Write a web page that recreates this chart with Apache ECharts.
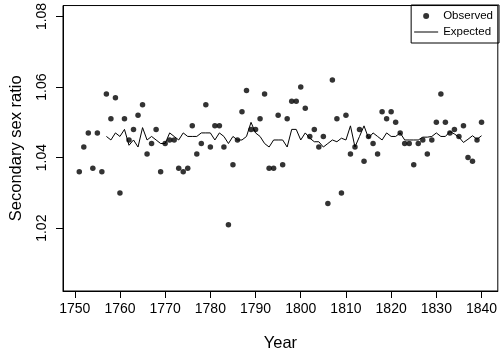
<!DOCTYPE html>
<html>
<head>
<meta charset="utf-8">
<script src="https://cdn.jsdelivr.net/npm/echarts@6/dist/echarts.min.js"></script>
<style>
	html, body { margin: 0; padding: 0; background: #fff; }
	#main { width: 500px; height: 357px; }
</style>
</head>
<body>
<div id="main"></div>
<script>
// observed ratios, one per year from 1751
var obsStart = 1751;
var observed = [
	1.036, 1.043, 1.047, 1.037, 1.047, 1.036, 1.058, 1.051, 1.057, 1.030,
	1.051, 1.045, 1.048, 1.052, 1.055, 1.041, 1.044, 1.048, 1.036, 1.044,
	1.045, 1.045, 1.037, 1.036, 1.037, 1.049, 1.041, 1.044, 1.055, 1.043,
	1.049, 1.049, 1.043, 1.021, 1.038, 1.045, 1.053, 1.059, 1.048, 1.048,
	1.051, 1.058, 1.037, 1.037, 1.052, 1.038, 1.051, 1.056, 1.056, 1.060,
	1.054, 1.046, 1.048, 1.043, 1.046, 1.027, 1.062, 1.051, 1.030, 1.052,
	1.041, 1.043, 1.048, 1.039, 1.046, 1.044, 1.041, 1.053, 1.051, 1.053,
	1.050, 1.047, 1.044, 1.044, 1.038, 1.044, 1.045, 1.041, 1.045, 1.050,
	1.058, 1.050, 1.047, 1.048, 1.046, 1.049, 1.040, 1.039, 1.045, 1.050
];
// expected ratios from 1757
var expStart = 1757;
var expected = [
	1.046, 1.045, 1.047, 1.046, 1.048, 1.0435, 1.045, 1.043, 1.0485, 1.045,
	1.046, 1.045, 1.044, 1.044, 1.047, 1.046, 1.045, 1.047, 1.046, 1.046,
	1.046, 1.047, 1.047, 1.047, 1.045, 1.047, 1.046, 1.044, 1.046, 1.045,
	1.045, 1.046, 1.050, 1.047, 1.046, 1.044, 1.043, 1.045, 1.045, 1.045,
	1.043, 1.048, 1.048, 1.045, 1.047, 1.0455, 1.0445, 1.0445, 1.043, 1.044,
	1.045, 1.0445, 1.0455, 1.045, 1.049, 1.043, 1.046, 1.049, 1.0455, 1.047,
	1.046, 1.045, 1.047, 1.046, 1.046, 1.047, 1.045, 1.045, 1.045, 1.045,
	1.0458, 1.0458, 1.046, 1.047, 1.046, 1.046, 1.0474, 1.0467, 1.0458, 1.0443,
	1.0452, 1.0462, 1.0452, 1.0462
];
var xTicks = [1750, 1760, 1770, 1780, 1790, 1800, 1810, 1820, 1830, 1840];
var yTicks = [1.02, 1.04, 1.06, 1.08];

var font = 'Liberation Sans, Arial, Helvetica, sans-serif';
var obsData = observed.map(function(v, i) { return [obsStart + i, v]; });
var expData = expected.map(function(v, i) { return [expStart + i, v]; });

var chart = echarts.init(document.getElementById('main'));
chart.setOption({
	animation: false,
	grid: {
		left: 60,
		right: 1,
		top: 5,
		bottom: 62,
		show: true,
		borderColor: '#000',
		borderWidth: 1,
		backgroundColor: 'transparent'
	},
	legend: {
		orient: 'vertical',
		right: 1,
		top: 5,
		borderColor: '#000',
		borderWidth: 1,
		padding: [4, 6, 4, 3],
		itemGap: 2,
		itemWidth: 24,
		itemHeight: 6,
		textStyle: {
			fontFamily: font,
			fontSize: 11.5,
			lineHeight: 14,
			color: '#000'
		},
		data: [
			{ name: 'Observed', icon: 'circle' },
			{ name: 'Expected', icon: 'path://M0,0L24,0L24,1L0,1Z', itemStyle: { color: '#000' } }
		]
	},
	xAxis: {
		type: 'value',
		min: 1747.4,
		max: 1843.6,
		name: 'Year',
		nameLocation: 'middle',
		nameGap: 44,
		nameTextStyle: { fontFamily: font, fontSize: 16.5, color: '#000' },
		splitLine: { show: false },
		axisLine: { show: true, lineStyle: { color: '#000', width: 1 } },
		axisTick: {
			show: true,
			length: 7,
			customValues: xTicks,
			lineStyle: { color: '#000' }
		},
		axisLabel: {
			customValues: xTicks,
			margin: 11,
			fontFamily: font,
			fontSize: 14,
			color: '#000',
			formatter: function(v) { return String(v); }
		}
	},
	yAxis: {
		type: 'value',
		min: 1.0022,
		max: 1.0831,
		name: 'Secondary sex ratio',
		nameLocation: 'middle',
		nameGap: 38,
		nameTextStyle: { fontFamily: font, fontSize: 16.5, color: '#000' },
		splitLine: { show: false },
		axisLine: { show: true, lineStyle: { color: '#000', width: 1 } },
		axisTick: {
			show: true,
			length: 7,
			customValues: yTicks,
			lineStyle: { color: '#000' }
		},
		axisLabel: {
			customValues: yTicks,
			rotate: 90,
			margin: 14,
			fontFamily: font,
			fontSize: 14,
			color: '#000',
			formatter: function(v) { return v.toFixed(2); }
		}
	},
	series: [{
		name: 'Observed',
		type: 'scatter',
		symbol: 'circle',
		symbolSize: 5.5,
		itemStyle: { color: '#000' },
		data: obsData
	}, {
		name: 'Expected',
		type: 'line',
		symbol: 'none',
		lineStyle: { color: '#000', width: 1 },
		itemStyle: { color: '#000' },
		data: expData
	}]
});
</script>
</body>
</html>
